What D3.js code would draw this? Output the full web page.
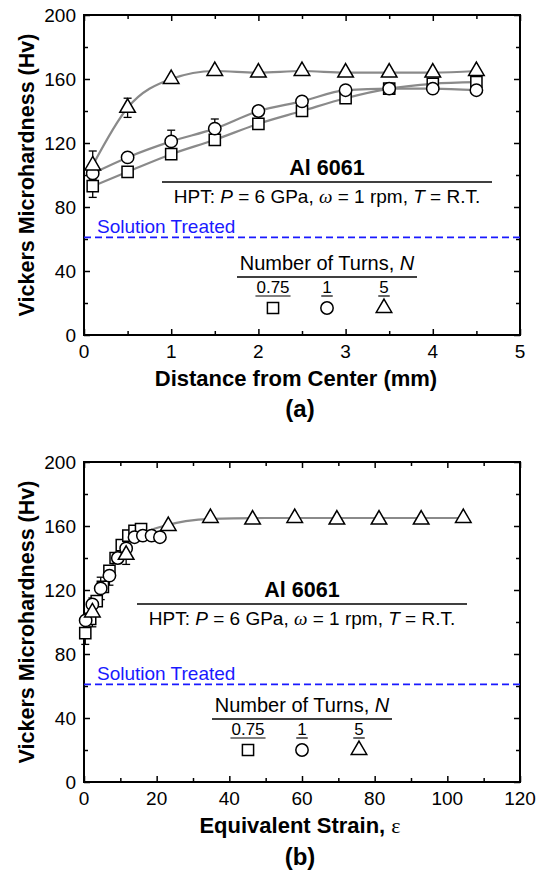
<!DOCTYPE html>
<html><head><meta charset="utf-8">
<script src="https://cdn.jsdelivr.net/npm/d3@7"></script>
<style>
body{margin:0;background:#fff;}
svg{display:block;font-family:Arial,"Liberation Sans",sans-serif;}
</style></head>
<body>
<svg id="c" width="538" height="871"></svg>
<script>
// ---------- data ----------
const distance = [0.1,0.5,1,1.5,2,2.5,3,3.5,4,4.5];
const hvN075 = [93,102,113,122,132,140,148,154,157,158];
const hvN1   = [101,111,121,129,140,146,153,154,154,153];
const hvN5   = [106,142,160,165,164,165,164,164,164,165];
const errN075 = [7,0,0,0,0,0,0,0,0,0];
const errN1   = [0,0,7,6,0,0,0,0,0,0];
const errN5   = [9,6,0,0,0,0,0,0,0,0];
const strainN075 = [0.35,1.7,3.5,5.2,7.0,8.7,10.4,12.2,13.9,15.7];
const strainN1   = [0.46,2.3,4.6,7.0,9.3,11.6,13.9,16.2,18.6,20.9];
const strainN5   = [2.3,11.6,23.2,34.8,46.4,58.0,69.6,81.2,92.8,104.4];
const strainFit = [0,1,3,6,9,12,15,18,22,28,35,50,70,105];
const hvFit     = [92,100,112,127,140,148,153,157,160,163,164.5,165,165,165];
const solutionTreated = 61;
const turns = ["0.75","1","5"];
const yTicks = [0,40,80,120,160,200];
const xTicksA = [0,1,2,3,4,5];
const xTicksB = [0,20,40,60,80,100,120];

const svg = d3.select("#c");
const W = {l:84, r:520};

function symbolPath(kind){
  if(kind==="square") return d3.symbol(d3.symbolSquare, 125)();
  if(kind==="circle") return d3.symbol(d3.symbolCircle, 120)();
  return d3.symbol(d3.symbolTriangle, 105)();
}
const kinds = ["square","circle","triangle"];

function panel(o){
  const g = svg.append("g");
  const x = d3.scaleLinear().domain(o.xdom).range([W.l,W.r]);
  const y = d3.scaleLinear().domain([0,200]).range([o.bottom,o.top]);
  const drawAxis=(gen,tr)=>g.append("g").attr("transform",tr).call(gen).call(s=>{s.select(".domain").remove();s.selectAll("line").attr("stroke","#000").attr("stroke-width",1.5);});
  const xMinor = d3.range(o.xdom[0]+o.xminor, o.xdom[1], o.xminor*2);
  const yMinor = d3.range(20,200,40);
  drawAxis(d3.axisBottom(x).tickValues(o.xticks).tickSize(-6).tickFormat(""),`translate(0,${o.bottom})`);
  drawAxis(d3.axisBottom(x).tickValues(xMinor).tickSize(-4).tickFormat(""),`translate(0,${o.bottom})`);
  drawAxis(d3.axisTop(x).tickValues(o.xticks).tickSize(-6).tickFormat(""),`translate(0,${o.top})`);
  drawAxis(d3.axisTop(x).tickValues(xMinor).tickSize(-4).tickFormat(""),`translate(0,${o.top})`);
  drawAxis(d3.axisLeft(y).tickValues(yTicks).tickSize(-6).tickFormat(""),`translate(${W.l},0)`);
  drawAxis(d3.axisLeft(y).tickValues(yMinor).tickSize(-4).tickFormat(""),`translate(${W.l},0)`);
  drawAxis(d3.axisRight(y).tickValues(yTicks).tickSize(-6).tickFormat(""),`translate(${W.r},0)`);
  drawAxis(d3.axisRight(y).tickValues(yMinor).tickSize(-4).tickFormat(""),`translate(${W.r},0)`);
  g.append("rect").attr("x",W.l).attr("y",o.top).attr("width",W.r-W.l).attr("height",o.bottom-o.top)
    .attr("fill","none").attr("stroke","#000").attr("stroke-width",2);
  // tick labels
  g.selectAll(".yl").data(yTicks).join("text").attr("x",W.l-8).attr("y",d=>y(d)+7)
    .attr("text-anchor","end").attr("font-size",19).text(d=>d);
  g.selectAll(".xl").data(o.xticks).join("text").attr("x",d=>x(d)).attr("y",o.bottom+23)
    .attr("text-anchor","middle").attr("font-size",19).text(d=>d);
  // axis titles
  g.append("text").attr("transform",`translate(34,${(o.top+o.bottom)/2}) rotate(-90)`)
    .attr("text-anchor","middle").attr("font-size",21.5).attr("font-weight","bold").text("Vickers Microhardness (Hv)");
  const xt=g.append("text").attr("x",o.xtitleX).attr("y",o.bottom+51).attr("text-anchor","middle")
    .attr("font-size",22).attr("font-weight","bold");
  xt.append("tspan").text(o.xtitle);
  if(o.xtitleSym) xt.append("tspan").attr("font-weight","normal").attr("font-family","'Liberation Serif','DejaVu Serif',serif").text(o.xtitleSym);
  g.append("text").attr("x",300).attr("y",o.bottom+o.labDy).attr("text-anchor","middle")
    .attr("font-size",24).attr("font-weight","bold").text(o.label);
  // annotation
  const ax=o.annX, at=o.top+o.annDy;
  g.append("text").attr("x",ax).attr("y",at).attr("text-anchor","middle").attr("font-size",21.5).attr("font-weight","bold").text("Al 6061");
  g.append("line").attr("x1",ax-165).attr("x2",ax+165).attr("y1",at+7).attr("y2",at+7).attr("stroke","#000").attr("stroke-width",1.5);
  const t2=g.append("text").attr("x",ax).attr("y",at+28).attr("text-anchor","middle").attr("font-size",19);
  t2.append("tspan").text("HPT: ");
  t2.append("tspan").attr("font-style","italic").text("P");
  t2.append("tspan").text(" = 6 GPa, ");
  t2.append("tspan").attr("font-style","italic").attr("font-family","'Liberation Serif',serif").text("ω");
  t2.append("tspan").text(" = 1 rpm, ");
  t2.append("tspan").attr("font-style","italic").text("T");
  t2.append("tspan").text(" = R.T.");
  // solution treated
  g.append("line").attr("x1",W.l).attr("x2",W.r).attr("y1",y(solutionTreated)).attr("y2",y(solutionTreated))
    .attr("stroke","#1a1aff").attr("stroke-width",1.6).attr("stroke-dasharray","7,4");
  g.append("text").attr("x",W.l+13).attr("y",y(solutionTreated)-4).attr("fill","#1a1aff").attr("font-size",19).text("Solution Treated");
  // legend
  const lx=o.legX, ly=o.top+o.legDy;
  const lt=g.append("text").attr("x",lx).attr("y",ly).attr("text-anchor","middle").attr("font-size",20);
  lt.append("tspan").text("Number of Turns, ");
  lt.append("tspan").attr("font-style","italic").text("N");
  g.append("line").attr("x1",lx-90).attr("x2",lx+90).attr("y1",ly+7).attr("y2",ly+7).attr("stroke","#000").attr("stroke-width",1.5);
  const off=[-54,0,57];
  turns.forEach((t,i)=>{
    const cx=lx+off[i];
    const tt=g.append("text").attr("x",cx).attr("y",ly+23).attr("text-anchor","middle").attr("font-size",17).text(t);
    const w=tt.node().getComputedTextLength();
    g.append("line").attr("x1",cx-w/2-1).attr("x2",cx+w/2+1).attr("y1",ly+26).attr("y2",ly+26).attr("stroke","#000").attr("stroke-width",1.2);
    g.append("path").attr("d",symbolPath(kinds[i])).attr("transform",`translate(${cx},${ly+38})`)
      .attr("fill","#fff").attr("stroke","#000").attr("stroke-width",1.5);
  });
  // fits
  const line=d3.line().x(d=>x(d[0])).y(d=>y(d[1])).curve(d3.curveMonotoneX);
  o.fits.forEach(f=>g.append("path").attr("d",line(f)).attr("fill","none").attr("stroke","#8a8a8a").attr("stroke-width",2.2));
  // error bars + markers
  o.series.forEach((s,si)=>{
    s.xs.forEach((xv,i)=>{
      const e=s.err[i]; if(!e) return;
      const px=x(xv);
      g.append("line").attr("x1",px).attr("x2",px).attr("y1",y(s.ys[i]-e)).attr("y2",y(s.ys[i]+e)).attr("stroke","#000").attr("stroke-width",1.3);
      [s.ys[i]-e,s.ys[i]+e].forEach(v=>g.append("line").attr("x1",px-4).attr("x2",px+4).attr("y1",y(v)).attr("y2",y(v)).attr("stroke","#000").attr("stroke-width",1.3));
    });
  });
  o.series.forEach((s,si)=>{
    g.selectAll(null).data(s.xs.map((v,i)=>[v,s.ys[i]])).join("path")
      .attr("d",symbolPath(kinds[si])).attr("transform",d=>`translate(${x(d[0])},${y(d[1])})`)
      .attr("fill","#fff").attr("stroke","#000").attr("stroke-width",1.5);
  });
}

const zip=(a,b)=>a.map((v,i)=>[v,b[i]]);
panel({top:15,bottom:335,xdom:[0,5],xticks:xTicksA,xminor:0.5,xtitle:"Distance from Center (mm)",xtitleX:296,label:"(a)",labDy:82,
  annX:327,annDy:160,legX:327,legDy:255,
  fits:[zip(distance,hvN075),zip(distance,hvN1),zip(distance,hvN5)],
  series:[{xs:distance,ys:hvN075,err:errN075},{xs:distance,ys:hvN1,err:errN1},{xs:distance,ys:hvN5,err:errN5}]});
panel({top:462,bottom:782,xdom:[0,120],xticks:xTicksB,xminor:10,xtitle:"Equivalent Strain, ",xtitleSym:"ε",xtitleX:300,label:"(b)",labDy:83,
  annX:302,annDy:135,legX:302,legDy:250,
  fits:[zip(strainFit,hvFit)],
  series:[{xs:strainN075,ys:hvN075,err:errN075},{xs:strainN1,ys:hvN1,err:errN1},{xs:strainN5,ys:hvN5,err:errN5}]});
</script>
</body></html>
